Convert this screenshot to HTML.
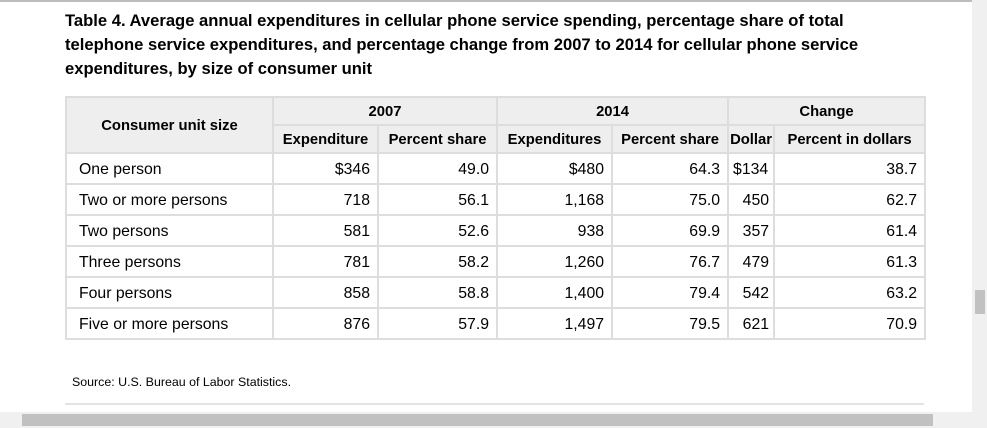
<!DOCTYPE html>
<html><head><meta charset="utf-8"><style>
*{margin:0;padding:0;box-sizing:border-box}
body{width:987px;height:428px;overflow:hidden;background:#fff;font-family:"Liberation Sans",Arial,sans-serif;position:relative;color:#000}
#topline{position:absolute;left:0;top:0;width:972px;height:2px;background:#bdbdbd}
#vscroll{position:absolute;left:972px;top:0;width:15px;height:428px;background:#f0f0f0}
#vthumb{position:absolute;left:975px;top:290px;width:10px;height:24px;background:#c1c1c1}
#hscroll{position:absolute;left:0;top:412px;width:972px;height:16px;background:#f0f0f0}
#hthumb{position:absolute;left:22px;top:414px;width:911px;height:12px;background:#c1c1c1}
h1{position:absolute;left:65px;top:9px;width:880px;font-size:16.6px;font-weight:bold;line-height:24px;white-space:nowrap}
table{position:absolute;left:65px;top:96px;border-collapse:collapse;font-size:15.8px;table-layout:fixed;width:859px}
td,th{border:2px solid #ddd;padding:0 7px;white-space:nowrap}
th{background:#eee;font-weight:bold;font-size:14.8px;height:28px;text-align:center;padding-top:2px}
td{height:31px;text-align:right;padding-top:3px}
td.l{text-align:left;padding-left:12px}
td.d{padding:3px 4px 0}
#src{position:absolute;left:72px;top:375px;font-size:12.4px}
#bline{position:absolute;left:65px;top:403px;width:859px;height:2px;background:#e3e3e3}
</style></head><body>
<div id="topline"></div>
<h1>Table 4. Average annual expenditures in cellular phone service spending, percentage share of total<br>telephone service expenditures, and percentage change from 2007 to 2014 for cellular phone service<br>expenditures, by size of consumer unit</h1>
<table>
<colgroup><col style="width:207px"><col style="width:105px"><col style="width:119px"><col style="width:115px"><col style="width:116px"><col style="width:46px"><col style="width:151px"></colgroup>
<tr><th rowspan="2">Consumer unit size</th><th colspan="2">2007</th><th colspan="2">2014</th><th colspan="2">Change</th></tr>
<tr><th style="padding:2px 2px 0">Expenditure</th><th style="padding:2px 2px 0">Percent share</th><th style="padding:2px 2px 0">Expenditures</th><th style="padding:2px 2px 0">Percent share</th><th style="padding:2px 1px 0">Dollar</th><th>Percent in dollars</th></tr>
<tr><td class="l">One person</td><td>$346</td><td>49.0</td><td>$480</td><td>64.3</td><td class="d" style="text-align:left">$134</td><td>38.7</td></tr>
<tr><td class="l">Two or more persons</td><td>718</td><td>56.1</td><td>1,168</td><td>75.0</td><td class="d">450</td><td>62.7</td></tr>
<tr><td class="l">Two persons</td><td>581</td><td>52.6</td><td>938</td><td>69.9</td><td class="d">357</td><td>61.4</td></tr>
<tr><td class="l">Three persons</td><td>781</td><td>58.2</td><td>1,260</td><td>76.7</td><td class="d">479</td><td>61.3</td></tr>
<tr><td class="l">Four persons</td><td>858</td><td>58.8</td><td>1,400</td><td>79.4</td><td class="d">542</td><td>63.2</td></tr>
<tr><td class="l">Five or more persons</td><td>876</td><td>57.9</td><td>1,497</td><td>79.5</td><td class="d">621</td><td>70.9</td></tr>
</table>
<div id="src">Source: U.S. Bureau of Labor Statistics.</div>
<div id="bline"></div>
<div id="vscroll"></div>
<div id="vthumb"></div>
<div id="hscroll"></div>
<div id="hthumb"></div>
</body></html>
